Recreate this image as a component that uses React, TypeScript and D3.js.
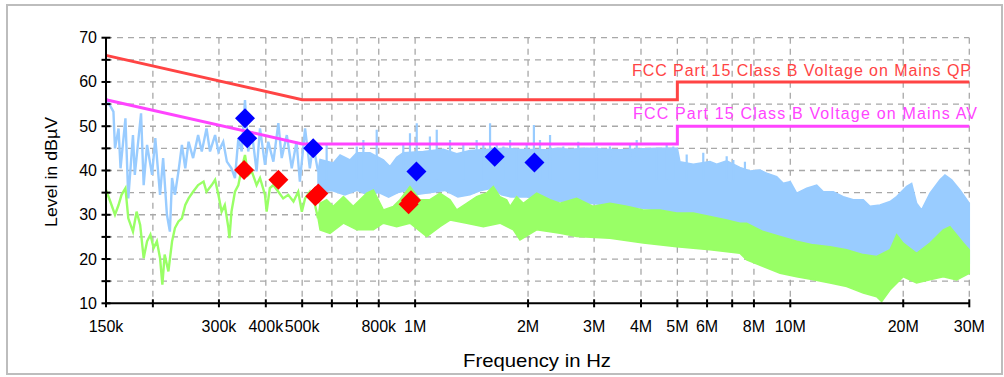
import React from "react";
import * as d3 from "d3";

// ---------- data ----------
// x-axis ticks (Hz) and labels
const tickFreqs = [150e3, 200e3, 300e3, 400e3, 500e3, 600e3, 700e3, 800e3, 1e6, 2e6, 3e6, 4e6, 5e6, 6e6, 7e6, 8e6, 10e6, 20e6, 30e6];
const tickLabels = ["150k", "", "300k", "400k", "500k", "", "", "800k", "1M", "2M", "3M", "4M", "5M", "6M", "", "8M", "10M", "20M", "30M"];
const yMajor = [10, 20, 30, 40, 50, 60, 70];
const yGrid = [15, 20, 25, 30, 35, 40, 45, 50, 55, 60, 65, 70];
const yTicks = [10, 15, 20, 25, 30, 35, 40, 45, 50, 55, 60, 65, 70];

// limit lines (MHz, dBuV)
const limitFreqMHz = [0.15, 0.5, 5, 5, 30];
const qpLimit = [66, 56, 56, 60, 60];
const avLimit = [56, 46, 46, 50, 50];

// peak trace, low-frequency part (kHz, dBuV)
const peakLowKHz = [150, 157, 158.5, 162, 164, 169, 172, 177, 179, 186, 189, 193, 199, 203, 209, 213, 218, 222, 225, 229, 234, 239, 244, 249, 256, 264, 270, 278, 284, 293, 299, 308, 315, 324, 331, 338, 345, 352, 359, 367, 378, 386, 398, 406, 419, 432, 441, 455, 469, 483, 493, 509, 524, 535, 551];
const peakLowLevel = [56.3, 53.3, 45.0, 49.5, 40.5, 51.8, 33.7, 48.0, 39.0, 52.9, 36.7, 45.8, 39.0, 47.3, 34.5, 42.8, 30.0, 26.2, 38.3, 34.5, 39.8, 45.8, 40.5, 46.5, 42.8, 48.0, 44.3, 49.5, 44.3, 48.0, 44.3, 46.5, 42.0, 40.5, 38.3, 47.3, 44.3, 55.9, 44.3, 48.8, 39.8, 49.5, 41.3, 46.5, 42.0, 50.7, 42.8, 48.0, 40.5, 46.5, 37.5, 49.5, 40.5, 45.8, 39.8];

// peak trace band: solid core top (MHz, dBuV)
const peakBandUpperMHz = [0.551, 0.558, 0.605, 0.631, 0.671, 0.699, 0.758, 0.823, 0.857, 0.893, 0.930, 1.052, 1.189, 1.291, 1.400, 1.719, 1.903, 2.243, 2.384, 2.587, 2.867, 3.516, 4.056, 4.406, 4.877, 5.0, 5.08, 5.514, 6.108, 6.366, 6.768, 7.34, 7.81, 8.30, 8.65, 9.20, 9.58, 10.0, 10.40, 11.06, 11.76, 12.25, 13.02, 13.84, 14.72, 15.65, 16.31, 17.34, 18.44, 19.21, 20.43, 21.06, 21.71, 22.39, 23.57, 25.06, 25.84, 26.92, 28.33, 30];
const peakBandUpper = [39.8, 42.5, 41.7, 43.5, 42.4, 44.0, 44.0, 42.4, 40.9, 43.0, 44.0, 44.3, 44.8, 43.8, 44.5, 45.0, 44.8, 44.7, 45.0, 44.8, 45.0, 44.7, 44.9, 45.0, 45.0, 45.0, 42.0, 41.4, 42.0, 41.4, 42.2, 40.7, 39.9, 40.1, 39.4, 38.6, 37.1, 37.5, 34.9, 36.0, 36.7, 35.2, 35.2, 34.1, 33.4, 33.4, 31.9, 32.2, 33.0, 34.1, 36.4, 37.1, 32.6, 31.1, 34.9, 37.9, 39.0, 37.9, 35.6, 32.6];
// peak trace band: spikes above the core (MHz, top dBuV)
const peakSpikeMHz = [0.581, 0.699, 0.728, 0.790, 0.930, 0.969, 1.010, 1.095, 1.142, 1.239, 1.344, 1.459, 1.520, 1.584, 1.650, 1.719, 1.791, 1.865, 1.983, 2.073, 2.152, 2.289, 2.483, 2.722, 3.048, 3.306, 3.739, 3.896, 4.406, 4.683, 4.877, 5.295, 5.862, 6.768, 7.05, 7.57];
const peakSpikeTop = [46.2, 45.4, 46.9, 49.2, 46.2, 48.4, 50.7, 47.7, 49.2, 46.9, 46.2, 46.9, 46.2, 50.7, 46.2, 45.4, 46.9, 45.0, 46.2, 50.3, 46.9, 48.0, 45.4, 46.5, 45.4, 45.4, 46.2, 46.9, 45.1, 46.2, 45.4, 43.6, 44.0, 43.2, 42.4, 42.0];
// peak trace band: bottom (MHz, dBuV)
const peakBandLowerMHz = [0.551, 0.6, 0.65, 0.7, 0.75, 0.8, 0.85, 0.9, 0.95, 1.0, 1.1, 1.2, 1.3, 1.4, 1.5, 1.6, 1.7, 1.8, 2.0, 2.4, 3.0, 3.5, 4.0, 4.5, 5.0, 6.0, 7.3, 10.0, 15.0, 17.5, 20.0, 22.0, 25.0, 27.0, 30.0];
const peakBandLower = [35.0, 35.5, 34.5, 35.5, 34.5, 35.0, 34.0, 35.0, 35.5, 34.5, 35.0, 35.5, 34.0, 34.5, 35.5, 36.0, 34.5, 34.0, 34.0, 33.0, 32.5, 32.0, 31.5, 31.0, 30.5, 27.0, 25.0, 21.0, 17.0, 15.0, 19.0, 18.0, 21.0, 20.0, 19.0];

// average trace, low-frequency part (kHz, dBuV)
const avgLowKHz = [150, 154, 158.5, 162, 165, 169, 172, 177, 181, 185, 189, 193, 197, 201, 205, 209, 212, 215, 220, 225, 229, 234, 239, 244, 249, 256, 264, 273, 278, 287, 293, 299, 305, 311, 318, 320, 324, 331, 338, 345, 352, 359, 367, 378, 386, 398, 402, 410, 419, 432, 445, 459, 474, 488, 499, 509, 524, 541, 551];
const avgLowLevel = [35.6, 33.0, 30.0, 32.2, 34.5, 36.0, 29.2, 26.2, 30.7, 27.7, 20.2, 24.0, 25.5, 22.5, 24.0, 20.2, 14.2, 21.0, 17.2, 24.0, 27.0, 28.5, 29.2, 32.2, 33.7, 35.2, 36.7, 37.5, 35.2, 36.7, 37.9, 34.5, 30.7, 32.2, 27.0, 24.7, 30.7, 35.2, 36.7, 40.5, 43.5, 39.0, 39.8, 36.7, 38.3, 34.5, 30.7, 36.0, 36.7, 35.2, 33.7, 34.5, 33.0, 35.2, 30.7, 33.7, 35.2, 32.2, 29.2];

// average trace band (MHz, envelopes dBuV)
const avgBandUpperMHz = [0.551, 0.558, 0.581, 0.605, 0.644, 0.684, 0.743, 0.774, 0.823, 0.875, 0.911, 0.969, 1.030, 1.095, 1.165, 1.239, 1.291, 1.372, 1.459, 1.551, 1.616, 1.683, 1.754, 1.791, 1.865, 1.942, 2.109, 2.289, 2.433, 2.696, 2.985, 3.306, 3.663, 4.056, 4.494, 4.98, 5.514, 6.108, 6.768, 7.34, 7.65, 8.47, 9.39, 10.40, 11.52, 12.76, 14.13, 15.65, 16.99, 18.44, 19.21, 20.0, 21.71, 23.57, 25.57, 26.64, 28.91, 30];
const avgBandUpper = [29.2, 32.6, 33.4, 31.9, 34.1, 31.9, 34.9, 35.6, 31.1, 31.9, 33.4, 36.4, 33.4, 33.4, 34.9, 33.4, 31.1, 32.6, 34.1, 34.9, 36.4, 34.1, 33.4, 31.9, 34.1, 32.6, 34.9, 33.4, 32.6, 33.7, 31.9, 32.6, 31.9, 31.1, 31.1, 30.4, 30.4, 29.6, 28.8, 28.1, 28.1, 26.2, 25.1, 24.0, 23.2, 22.8, 22.1, 21.0, 20.6, 22.1, 25.5, 23.6, 21.3, 23.6, 26.6, 27.3, 23.6, 22.1];
const avgBandLowerMHz = [0.551, 0.558, 0.593, 0.644, 0.699, 0.774, 0.823, 0.893, 0.969, 1.074, 1.165, 1.239, 1.372, 1.520, 1.683, 1.827, 1.903, 2.109, 2.433, 2.696, 3.306, 4.056, 4.98, 6.108, 7.34, 7.65, 8.47, 9.39, 10.40, 11.52, 12.76, 14.13, 15.65, 16.99, 17.52, 18.44, 20.0, 21.71, 23.57, 25.57, 27.76, 30];
const avgBandLower = [29.2, 26.6, 25.8, 28.1, 26.6, 26.6, 28.1, 27.3, 28.1, 25.1, 27.3, 28.8, 28.1, 27.3, 28.1, 26.6, 24.3, 26.6, 25.8, 25.1, 24.7, 23.6, 22.8, 22.1, 21.3, 19.8, 18.3, 16.8, 16.0, 15.3, 14.6, 13.8, 12.3, 11.5, 10.4, 13.0, 16.0, 14.6, 15.3, 16.0, 15.3, 16.8];

// final measurement markers (MHz, dBuV)
const qpMarkMHz = [0.352, 0.357, 0.535, 1.008, 1.63, 2.08];
const qpMarkLevel = [51.8, 47.3, 45.0, 39.8, 43.1, 41.8];
const avMarkMHz = [0.350, 0.432, 0.542, 0.552, 0.961, 0.975];
const avMarkLevel = [40.1, 37.9, 34.2, 34.8, 32.4, 33.3];

const qpLabel = "FCC Part 15 Class B Voltage  on Mains QP";
const avLabel = "FCC Part 15 Class B Voltage  on Mains AV";

// ---------- chart ----------
const W = 1004;
const H = 377;
const FONT = "'Liberation Sans', Arial, sans-serif";
const BLUE = "#99ccff";
const GREEN = "#99ff66";

export default function App() {
  const x = d3.scaleLog().domain([150e3, 30e6]).range([106, 969.3]);
  const y = d3.scaleLinear().domain([10, 70]).range([303.3, 37.7]);
  const line = d3.line<[number, number]>().x((d) => d[0]).y((d) => d[1]);

  const pts = (fs: number[], vs: number[], mult: number): [number, number][] =>
    fs.map((f, i) => [x(f * mult), y(vs[i])] as [number, number]);

  const band = (fu: number[], vu: number[], fl: number[], vl: number[]) => {
    const up = pts(fu, vu, 1e6);
    const lo = pts(fl, vl, 1e6).reverse();
    return line([...up, ...lo]) + "Z";
  };

  const diamond = "M0,-10L10,0L0,10L-10,0Z";
  const x0 = 106;
  const x1 = 969.3;
  const yb = 303.3;
  const yt = 37.7;

  const gridPath =
    yGrid.map((v) => `M${x0},${y(v)}H${x1}`).join("") +
    tickFreqs.slice(1).map((f) => `M${x(f)},${yt}V${yb}`).join("");

  const spikePath = peakSpikeMHz
    .map((f, i) => `M${x(f * 1e6)},${y(38)}V${y(peakSpikeTop[i])}`)
    .join("");

  return (
    <svg
      width={W}
      height={H}
      viewBox={`0 0 ${W} ${H}`}
      style={{ position: "absolute", left: 0, top: 0, background: "#fff" }}
      fontFamily={FONT}
    >
      <rect x={0} y={0} width={W} height={H} fill="#fff" />
      <rect x={7} y={5} width={995} height={369} fill="none" stroke="#bdbdbd" strokeWidth={2} />

      {/* grid */}
      <path d={gridPath} fill="none" stroke="#a8a8a8" strokeWidth={1.3} strokeDasharray="6 5" />

      {/* peak trace */}
      <path d={band(peakBandUpperMHz, peakBandUpper, peakBandLowerMHz, peakBandLower)} fill={BLUE} stroke={BLUE} strokeWidth={1.5} />
      <path d={spikePath} fill="none" stroke={BLUE} strokeWidth={2.2} />
      <path d={line(pts(peakLowKHz, peakLowLevel, 1e3)) || ""} fill="none" stroke={BLUE} strokeWidth={2.4} />

      {/* average trace */}
      <path d={band(avgBandUpperMHz, avgBandUpper, avgBandLowerMHz, avgBandLower)} fill={GREEN} stroke={GREEN} strokeWidth={1.5} />
      <path d={line(pts(avgLowKHz, avgLowLevel, 1e3)) || ""} fill="none" stroke={GREEN} strokeWidth={2.4} />

      {/* limit lines */}
      <path d={line(pts(limitFreqMHz, qpLimit, 1e6)) || ""} fill="none" stroke="#ff4444" strokeWidth={3} />
      <path d={line(pts(limitFreqMHz, avLimit, 1e6)) || ""} fill="none" stroke="#ff44ff" strokeWidth={3} />
      <text x={632} y={75.5} fontSize={16} fill="#ff4444" textLength={339} lengthAdjust="spacing">
        {qpLabel}
      </text>
      <text x={633} y={119} fontSize={16} fill="#ff44ff" textLength={344} lengthAdjust="spacing">
        {avLabel}
      </text>

      {/* markers */}
      {qpMarkMHz.map((f, i) => (
        <path key={"q" + i} d={diamond} transform={`translate(${x(f * 1e6)},${y(qpMarkLevel[i])})`} fill="#0000ff" />
      ))}
      {avMarkMHz.map((f, i) => (
        <path key={"a" + i} d={diamond} transform={`translate(${x(f * 1e6)},${y(avMarkLevel[i])})`} fill="#ff0000" />
      ))}

      {/* axes */}
      <g stroke="#000" strokeWidth={2}>
        <line x1={x0} x2={x0} y1={yt} y2={yb + 1} />
        <line x1={x0 - 1} x2={x1} y1={yb} y2={yb} />
        {yTicks.map((v) => (
          <line key={"yt" + v} x1={x0 - 4.5} x2={x0 + 4.5} y1={y(v)} y2={y(v)} />
        ))}
        {tickFreqs.map((f) => (
          <line key={"xt" + f} x1={x(f)} x2={x(f)} y1={yb - 4} y2={yb + 4} />
        ))}
      </g>
      <g fontSize={16} fill="#000">
        {yMajor.map((v) => (
          <text key={"yl" + v} x={97} y={y(v)} textAnchor="end" dominantBaseline="central">
            {v}
          </text>
        ))}
        {tickFreqs.map((f, i) =>
          tickLabels[i] ? (
            <text key={"xl" + f} x={x(f)} y={332} textAnchor="middle">
              {tickLabels[i]}
            </text>
          ) : null
        )}
      </g>
      <text x={537} y={366.5} fontSize={19} textAnchor="middle" textLength={148} lengthAdjust="spacingAndGlyphs">
        Frequency in Hz
      </text>
      <text
        transform={`translate(57,172) rotate(-90)`}
        fontSize={16.5}
        textAnchor="middle"
        textLength={110}
        lengthAdjust="spacingAndGlyphs"
      >
        Level in dBµV
      </text>
    </svg>
  );
}
